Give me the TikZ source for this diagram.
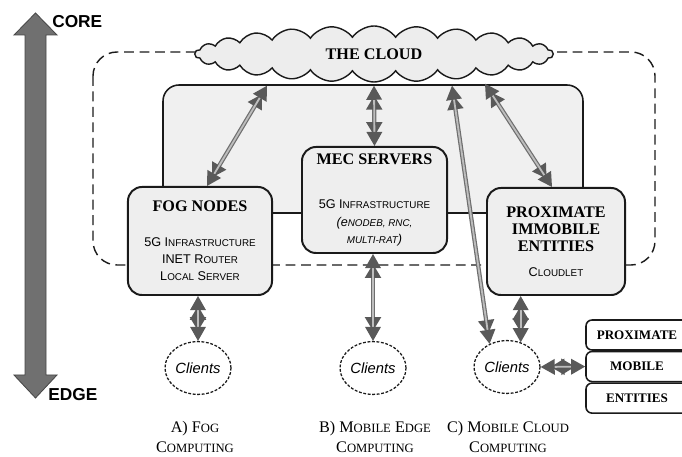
\documentclass[tikz,border=0pt]{standalone}
\usepackage{fontspec}
\usepackage{relsize}
\setmainfont{Liberation Serif}
\setsansfont{Liberation Sans}
\usetikzlibrary{arrows.meta,positioning,shapes.symbols,shapes.geometric,calc}
\definecolor{boxGray}{HTML}{EEEEEE}
\definecolor{panelGray}{HTML}{F0F0F0}
\definecolor{cloudGray}{HTML}{EDEDED}
\definecolor{tipGray}{HTML}{595959}
\definecolor{shaftGray}{HTML}{6E6E6E}
\definecolor{shaftLight}{HTML}{BDBDBD}
\definecolor{axisGray}{HTML}{707070}
\definecolor{ink}{HTML}{1A1A1A}
\newcommand\sm[1]{\textscale{.76}{#1}}
\newcommand\titlefont{\rmfamily\fontsize{11.5}{14.2}\selectfont\bfseries}
\newcommand\infofont{\sffamily\fontsize{9}{12.4}\selectfont}

\tikzset{
  entityBox/.style={rounded corners=3.5mm, fill=boxGray, draw=ink, line width=1.4pt,
    align=center, inner sep=2pt, font=\infofont},
  clientBubble/.style={ellipse, draw=ink, dash pattern=on 2pt off 1.2pt, line width=0.9pt,
    minimum width=1.65cm, minimum height=1.32cm, inner sep=0pt,
    font=\sffamily\itshape\fontsize{10.5}{12}\selectfont},
  pmeBox/.style={rounded corners=1.5mm, fill=white, draw=ink, line width=1.1pt,
    minimum width=2.55cm, minimum height=0.75cm, inner sep=0pt,
    font=\rmfamily\bfseries\fontsize{9.3}{11}\selectfont},
  link/.style={preaction={draw=shaftGray, line width=3pt, shorten >=7pt, shorten <=7pt},
    draw=shaftLight, line width=1.3pt,
    {Triangle[width=11pt,length=10pt,color=tipGray]}-{Triangle[width=11pt,length=10pt,color=tipGray]}},
  caption/.style={align=center, font=\fontsize{11.5}{13.8}\selectfont}
}

\begin{document}
\begin{tikzpicture}[x=0.025cm, y=-0.025cm]
\useasboundingbox (0,0) rectangle (682,457);

% core / edge axis
\filldraw[fill=axisGray, draw=ink!80, line width=0.6pt]
  (35.5,13) -- (57,35) -- (46,35) -- (46,375) -- (57,375) -- (35.5,398)
  -- (14,375) -- (25,375) -- (25,35) -- (14,35) -- cycle;
\node[anchor=west, inner sep=0pt, font=\sffamily\bfseries\fontsize{12.3}{14}\selectfont] (coreLabel) at (52,22) {CORE};
\node[anchor=west, inner sep=0pt, font=\sffamily\bfseries\fontsize{12.3}{14}\selectfont] (edgeLabel) at (48,395) {EDGE};

% dashed frame and shared panel
\draw[draw=ink, line width=1pt, dash pattern=on 7pt off 4pt, rounded corners=6mm] (93,52) rectangle (655,265);
\draw[fill=panelGray, draw=ink, line width=1.1pt, rounded corners=4mm] (163,85) rectangle (583,213);

\node[cloud, cloud puffs=26, cloud puff arc=110, aspect=6, minimum width=8.95cm, minimum height=1.4cm,
  fill=cloudGray, draw=ink, line width=1pt, inner sep=0pt, font=\titlefont] (theCloud) at (374,54) {THE CLOUD};

% the three edge layers
\node[entityBox, minimum width=3.6cm, minimum height=2.7cm] (fogNodes) at (200,241) {
  {\titlefont FOG NODES}\\[12pt]
  5G I\sm{NFRASTRUCTURE}\\
  INET R\sm{OUTER}\\
  L\sm{OCAL} S\sm{ERVER}};
\node[entityBox, minimum width=3.625cm, minimum height=2.65cm] (mecServers) at (374.5,200) {
  {\titlefont MEC SERVERS}\\[19pt]
  5G I\sm{NFRASTRUCTURE}\\
  {\itshape (e\sm{NODEB, RNC,}}\\
  {\itshape \sm{MULTI-RAT})}};
\node[entityBox, minimum width=3.45cm, minimum height=2.675cm] (proxImmobile) at (556,241.5) {
  {\titlefont PROXIMATE}\\
  {\titlefont IMMOBILE}\\
  {\titlefont ENTITIES}\\[5pt]
  C\sm{LOUDLET}};

% clients
\node[clientBubble] (clientsA) at (198,368) {Clients};
\node[clientBubble] (clientsB) at (373,368) {Clients};
\node[clientBubble] (clientsC) at (507,367) {Clients};

% proximate mobile entities
\node[pmeBox] (pmeTop) at (637,335) {PROXIMATE};
\node[pmeBox, below=0pt of pmeTop] (pmeMid) {MOBILE};
\node[pmeBox, below=0pt of pmeMid] (pmeBot) {ENTITIES};

% links
\draw[link] ($(theCloud.south)+(-107,3)$) -- ($(fogNodes.north)+(7,0)$);
\draw[link] ($(theCloud.south)+(0,3)$) -- (mecServers.north);
\draw[link] ($(theCloud.south)+(111,1)$) -- ($(proxImmobile.north)+(-4,0)$);
\draw[link] ($(theCloud.south)+(78,3)$) -- (clientsC.127);
\draw[link] (clientsA.north |- fogNodes.south) -- (clientsA.north);
\draw[link] (clientsB.north |- mecServers.south) -- (clientsB.north);
\draw[link] (clientsC.61 |- proxImmobile.south) -- (clientsC.61);
\draw[link] (clientsC.east) -- (pmeMid.west);

% captions
\node[caption] (capFog) at (195,437) {A) F\sm{OG}\\C\sm{OMPUTING}};
\node[caption] (capMec) at (375,437) {B) M\sm{OBILE} E\sm{DGE}\\C\sm{OMPUTING}};
\node[caption] (capMcc) at (508,437) {C) M\sm{OBILE} C\sm{LOUD}\\C\sm{OMPUTING}};
\end{tikzpicture}
\end{document}
